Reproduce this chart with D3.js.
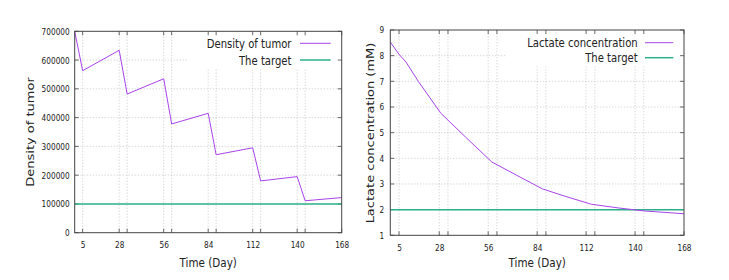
<!DOCTYPE html>
<html><head><meta charset="utf-8">
<script src="https://cdn.jsdelivr.net/npm/d3@7"></script>
<style>body{margin:0;background:#fff}svg{display:block}text{font-family:"DejaVu Sans",sans-serif;fill:#222}</style>
</head><body>
<svg id="c" width="729" height="280"></svg>
<script>
// ---- data ----
const tumorDays = [0,5,28,33,56,61,84,89,112,117,140,145,168];
const tumorValues = [700000,563000,634000,482000,535000,378000,415000,271000,295000,180000,195000,111000,122000];
const tumorTarget = 100000;
const lactateDays = [0,5,9,16,29,43,58,72,87,100,115,130,145,168];
const lactateValues = [8.53,8.05,7.75,7.0,5.75,4.83,3.86,3.35,2.81,2.52,2.21,2.07,1.95,1.84];
const lactateTarget = 2;
const xTickLabels = [5,28,56,84,112,140,168];
const xGridDays = [5,28,33,56,61,84,89,112,117,140,145,168];
const tumorTicks = [0,100000,200000,300000,400000,500000,600000,700000];
const lactateTicks = [1,2,3,4,5,6,7,8,9];

const SX = 0.8; // horizontal squeeze of the lettering
const svg = d3.select("#c");
const purple = "#a843ea", green = "#2bb08a", gridC = "#bbbbbb", border = "#444";

function htext(g, x, y, t, size, anchor){
  return g.append("text").attr("transform",`translate(${x},${y}) scale(${SX},1)`)
    .attr("text-anchor",anchor).attr("font-size",size).text(t);
}

function panel(o){
  const g = svg.append("g");
  const x = d3.scaleLinear().domain([0,168]).range([o.x0,o.x1]);
  const y = d3.scaleLinear().domain(o.ydom).range([o.y0,o.y1]);
  const lb = o.legendBox;
  // grid
  xGridDays.forEach(d=>{
    const px = x(d);
    if (px>o.x0+0.5 && px<o.x1-0.5){
      const top = px>lb[0] ? lb[1] : o.y1;
      g.append("line").attr("x1",px).attr("x2",px).attr("y1",o.y0).attr("y2",top)
        .attr("stroke",gridC).attr("stroke-width",0.8).attr("stroke-dasharray","1,2");
    }
  });
  o.yticks.forEach(v=>{
    const py = y(v);
    if (py<o.y0-0.5 && py>o.y1+0.5){
      const right = py<lb[1] ? lb[0] : o.x1;
      g.append("line").attr("x1",o.x0).attr("x2",right).attr("y1",py).attr("y2",py)
        .attr("stroke",gridC).attr("stroke-width",0.8).attr("stroke-dasharray","1,2");
    }
  });
  // ticks (inward, mirrored)
  xGridDays.forEach(d=>{
    const px=x(d);
    g.append("line").attr("x1",px).attr("x2",px).attr("y1",o.y0).attr("y2",o.y0-4).attr("stroke",border).attr("stroke-width",0.8);
    g.append("line").attr("x1",px).attr("x2",px).attr("y1",o.y1).attr("y2",o.y1+4).attr("stroke",border).attr("stroke-width",0.8);
  });
  o.yticks.forEach(v=>{
    const py=y(v);
    g.append("line").attr("x1",o.x0).attr("x2",o.x0+4).attr("y1",py).attr("y2",py).attr("stroke",border).attr("stroke-width",0.8);
    g.append("line").attr("x1",o.x1).attr("x2",o.x1-4).attr("y1",py).attr("y2",py).attr("stroke",border).attr("stroke-width",0.8);
  });
  // tick labels via d3 axes
  const xa = g.append("g").attr("transform",`translate(0,${o.y0})`)
    .call(d3.axisBottom(x).tickValues(xTickLabels).tickSize(0).tickPadding(9));
  const ya = g.append("g").attr("transform",`translate(${o.x0},0)`)
    .call(d3.axisLeft(y).tickValues(o.yticks).tickSize(0).tickPadding(o.ypad/SX).tickFormat(d3.format("d")));
  [xa,ya].forEach(a=>{a.select(".domain").remove();
    a.selectAll("text").attr("font-size",9.2).attr("font-family","DejaVu Sans").attr("fill","#222")
     .attr("transform",`scale(${SX},1)`);});
  // target
  g.append("line").attr("x1",o.x0).attr("x2",o.x1).attr("y1",y(o.target)).attr("y2",y(o.target))
    .attr("stroke",green).attr("stroke-width",1.5);
  // series
  const line = d3.line().x((d,i)=>x(o.days[i])).y(d=>y(d));
  g.append("path").datum(o.values).attr("d",line).attr("fill","none").attr("stroke",purple).attr("stroke-width",1);
  // border
  g.append("rect").attr("x",o.x0).attr("y",o.y1).attr("width",o.x1-o.x0).attr("height",o.y0-o.y1)
    .attr("fill","none").attr("stroke",border).attr("stroke-width",1);
  // legend
  const L = o.legend;
  [[o.name,purple,L.y1],["The target",green,L.y2]].forEach(([t,c,ly])=>{
    htext(g, L.tx, ly+4.7, t, 12.6, "end");
    g.append("line").attr("x1",L.lx0).attr("x2",L.lx1).attr("y1",ly).attr("y2",ly).attr("stroke",c).attr("stroke-width",c===green?1.5:1);
  });
  // axis titles
  htext(g, (o.x0+o.x1)/2, 267, "Time (Day)", 13, "middle");
  g.append("text").attr("transform",`translate(${o.ylx},${o.ylc}) scale(${SX},1) rotate(-90)`)
    .attr("text-anchor","middle").attr("font-size",13).text(o.ylabel);
}

panel({x0:74.7,x1:341.7,y0:232.7,y1:31.3,ydom:[0,700000],yticks:tumorTicks,ypad:5,
  days:tumorDays,values:tumorValues,target:tumorTarget,name:"Density of tumor",ylabel:"Density of tumor",
  ylx:33.5, ylc:132, legendBox:[186.7,68], legend:{tx:291.5,lx0:300,lx1:330.7,y1:43.3,y2:60}});
panel({x0:390.3,x1:684,y0:235.3,y1:30,ydom:[1,9],yticks:lactateTicks,ypad:6,
  days:lactateDays,values:lactateValues,target:lactateTarget,name:"Lactate concentration",ylabel:"Lactate concentration (mM)",
  ylx:373.5, ylc:133, legendBox:[506.7,66.5], legend:{tx:637.7,lx0:645,lx1:673.3,y1:42.7,y2:57.7}});
</script>
</body></html>
